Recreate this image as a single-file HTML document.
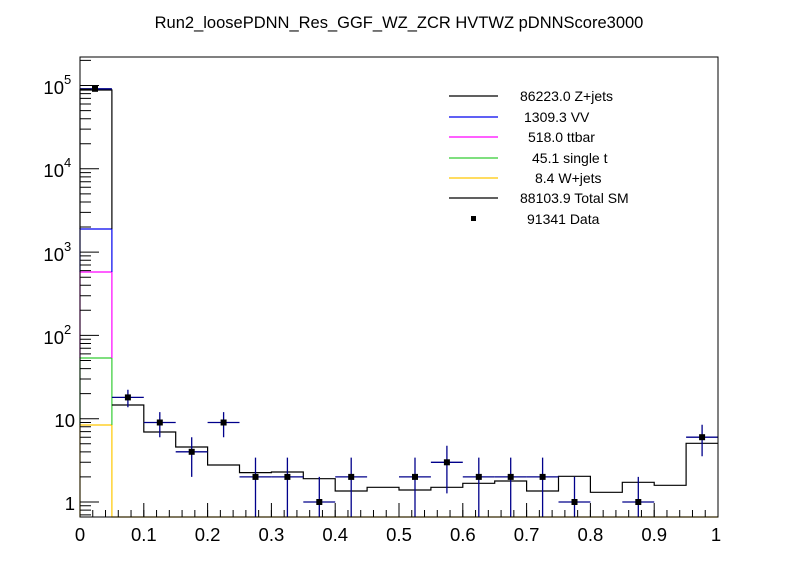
<!DOCTYPE html>
<html><head><meta charset="utf-8"><style>
html,body{margin:0;padding:0;background:#fff;}
svg{display:block;font-family:"Liberation Sans",Arial,sans-serif;}
</style></head><body>
<svg width="798" height="575" viewBox="0 0 798 575" xmlns="http://www.w3.org/2000/svg">
<rect width="798" height="575" fill="#fff"/>
<text x="399" y="28" font-size="16.5" text-anchor="middle">Run2_loosePDNN_Res_GGF_WZ_ZCR HVTWZ  pDNNScore3000</text>

<g fill="none" stroke-width="1.2">
<path d="M80,517 V425 H111.9 V517 H718" stroke="#ffc800"/>
<path d="M80,425 V358 H111.9 V425" stroke="#33cc33"/>
<path d="M80,358 V272 H111.9 V358" stroke="#ff00ff"/>
<path d="M80,272 V229 H111.9 V272" stroke="#0000ee"/>
<path d="M80,229 V90 H111.9 V229" stroke="#000"/>
<path d="M111.9,405 H143.8 V432 H175.7 V447 H207.6 V465 H239.5 V472.6 H271.4 V472 H303.3 V478.7 H335.2 V491 H367.1 V487.3 H399 V490 H430.9 V487.3 H462.8 V483.3 H494.7 V481 H526.6 V491 H558.5 V476.3 H590.4 V492.3 H622.3 V482.3 H654.2 V485.3 H686.1 V443.3 H718" stroke="#000"/>
</g>

<g stroke="#00008b" stroke-width="1.3" fill="none">
<path d="M80,88.8 H111.9"/>
<path d="M111.9,397.4 H143.8 M127.9,389.8 V407.2"/>
<path d="M143.8,422.5 H175.7 M159.8,412.1 V437.2"/>
<path d="M175.7,451.8 H207.6 M191.7,437.2 V476.9"/>
<path d="M207.6,422.5 H239.5 M223.6,412.1 V437.2"/>
<path d="M239.5,476.9 H271.4 M255.5,457.6 V517"/>
<path d="M271.4,476.9 H303.3 M287.4,457.6 V517"/>
<path d="M303.3,502 H335.2 M319.3,476.9 V517"/>
<path d="M335.2,476.9 H367.1 M351.2,457.6 V517"/>
<path d="M399,476.9 H430.9 M415,457.6 V517"/>
<path d="M430.9,462.3 H462.8 M446.9,445.8 V493.4"/>
<path d="M462.8,476.9 H494.7 M478.8,457.6 V517"/>
<path d="M494.7,476.9 H526.6 M510.7,457.6 V517"/>
<path d="M526.6,476.9 H558.5 M542.6,457.6 V517"/>
<path d="M558.5,502 H590.4 M574.5,476.9 V517"/>
<path d="M622.3,502 H654.2 M638.3,476.9 V517"/>
<path d="M686.1,437.2 H718 M702.1,424.8 V456.2"/>
</g>
<g fill="#000">
<rect x="92" y="85.8" width="6" height="6"/>
<rect x="124.9" y="394.4" width="6" height="6"/>
<rect x="156.8" y="419.5" width="6" height="6"/>
<rect x="188.7" y="448.8" width="6" height="6"/>
<rect x="220.6" y="419.5" width="6" height="6"/>
<rect x="252.5" y="473.9" width="6" height="6"/>
<rect x="284.4" y="473.9" width="6" height="6"/>
<rect x="316.3" y="499" width="6" height="6"/>
<rect x="348.2" y="473.9" width="6" height="6"/>
<rect x="412" y="473.9" width="6" height="6"/>
<rect x="443.9" y="459.3" width="6" height="6"/>
<rect x="475.8" y="473.9" width="6" height="6"/>
<rect x="507.7" y="473.9" width="6" height="6"/>
<rect x="539.6" y="473.9" width="6" height="6"/>
<rect x="571.5" y="499" width="6" height="6"/>
<rect x="635.3" y="499" width="6" height="6"/>
<rect x="699.1" y="434.2" width="6" height="6"/>
</g>

<rect x="80" y="57" width="638" height="460" fill="none" stroke="#000" stroke-width="1"/>

<line x1="79.5" y1="513.5" x2="719" y2="513.5" stroke="#000" stroke-width="7" stroke-dasharray="1 11.76"/>
<line x1="79.5" y1="510" x2="719" y2="510" stroke="#000" stroke-width="14" stroke-dasharray="1 62.8"/>

<g stroke="#000" stroke-width="1" fill="none">
<path d="M80,502h19M80,418.7h19M80,335.4h19M80,252.1h19M80,168.8h19M80,85.5h19"/>
<path d="M80,476.9h11M80,462.3h11M80,451.9h11M80,443.8h11M80,437.2h11M80,431.6h11M80,426.8h11M80,422.5h11
M80,393.6h11M80,379h11M80,368.6h11M80,360.5h11M80,353.9h11M80,348.3h11M80,343.5h11M80,339.2h11
M80,310.3h11M80,295.7h11M80,285.3h11M80,277.2h11M80,270.6h11M80,265h11M80,260.2h11M80,255.9h11
M80,227h11M80,212.4h11M80,202h11M80,193.9h11M80,187.3h11M80,181.7h11M80,176.9h11M80,172.6h11
M80,143.7h11M80,129.1h11M80,118.7h11M80,110.6h11M80,104h11M80,98.4h11M80,93.6h11M80,89.3h11
M80,60.4h11M80,505.8h11M80,510.1h11M80,514.9h11"/>
</g>

<g font-size="18.5" text-anchor="middle">
<text x="80" y="541">0</text>
<text x="143.8" y="541">0.1</text>
<text x="207.6" y="541">0.2</text>
<text x="271.4" y="541">0.3</text>
<text x="335.2" y="541">0.4</text>
<text x="399" y="541">0.5</text>
<text x="462.8" y="541">0.6</text>
<text x="526.6" y="541">0.7</text>
<text x="590.4" y="541">0.8</text>
<text x="654.2" y="541">0.9</text>
<text x="716" y="541">1</text>
</g>
<g font-size="18.5" text-anchor="end">
<text x="75" y="510">1</text>
<text x="75" y="427">10</text>
<text x="64" y="344">10</text><text x="64" y="334" font-size="13" text-anchor="start">2</text>
<text x="64" y="261">10</text><text x="64" y="251" font-size="13" text-anchor="start">3</text>
<text x="64" y="177">10</text><text x="64" y="167" font-size="13" text-anchor="start">4</text>
<text x="64" y="94">10</text><text x="64" y="84" font-size="13" text-anchor="start">5</text>
</g>

<g stroke-width="1.2">
<line x1="449" y1="96" x2="498" y2="96" stroke="#000"/>
<line x1="449" y1="117" x2="498" y2="117" stroke="#0000ee"/>
<line x1="449" y1="137" x2="498" y2="137" stroke="#ff00ff"/>
<line x1="449" y1="158" x2="498" y2="158" stroke="#33cc33"/>
<line x1="449" y1="178" x2="498" y2="178" stroke="#ffc800"/>
<line x1="449" y1="198" x2="498" y2="198" stroke="#000"/>
</g>
<rect x="471" y="216" width="5" height="5" fill="#000"/>
<g font-size="14">
<text x="520" y="101">86223.0 Z+jets</text>
<text x="524" y="122">1309.3 VV</text>
<text x="528" y="142">518.0 ttbar</text>
<text x="532" y="163">45.1 single t</text>
<text x="535" y="183">8.4 W+jets</text>
<text x="520" y="203">88103.9 Total SM</text>
<text x="527" y="224">91341 Data</text>
</g>
</svg>
</body></html>
